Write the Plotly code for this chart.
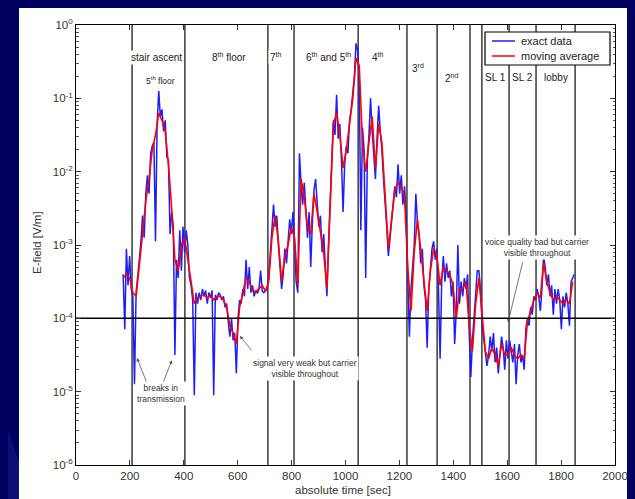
import plotly.graph_objects as go

# ---------------- data ----------------
# exact data: sampled every 6 s from t = 175 s; values stored as log10(E [V/m])
exact_time = list(range(175, 1850, 6))
exact_log10 = [
    -3.4, -4.15, -3.05, -3.55, -3.15, -3.6, -3.7, -4.9, -3.65, -3.45,
    -3.2, -2.95, -2.6, -2.9, -2.3, -2.05, -2.3, -1.75, -1.65, -1.6,
    -2.95, -1.35, -0.9, -1.25, -1.15, -1.45, -1.3, -1.8, -1.85, -2.85,
    -2.55, -2.75, -4.5, -3.2, -3.45, -2.8, -3.35, -2.75, -3.1, -2.8,
    -3.0, -3.45, -3.55, -3.75, -5.05, -3.65, -3.8, -3.65, -3.75, -3.6,
    -3.7, -3.62, -3.8, -3.65, -3.72, -3.62, -5.05, -3.68, -3.75, -3.65,
    -3.68, -3.75, -3.7, -3.85, -3.8, -4.05, -4.25, -4.0, -4.3, -4.2,
    -4.75, -4.0, -3.75, -3.8, -3.6, -3.7, -3.2, -3.6, -3.3, -3.65,
    -3.55, -3.7, -3.62, -3.66, -3.6, -3.35, -3.63, -3.65, -3.62, -3.6,
    -3.45, -3.1, -2.7, -2.45, -2.75, -2.6, -3.0, -3.35, -3.6, -3.4,
    -3.05, -3.25, -2.95, -2.65, -2.85, -2.55, -3.0, -3.5, -3.65, -1.75,
    -2.15, -2.45, -2.15, -2.55, -2.9, -2.55, -3.3, -2.7, -2.25, -2.1,
    -2.5, -2.75, -2.6, -3.1, -2.85, -3.3, -3.7, -3.0, -2.5, -1.85,
    -1.3, -1.5, -0.95, -1.55, -1.35, -1.85, -2.55, -1.9, -1.65, -1.75,
    -1.3, -1.15, -0.95, -0.7, -0.25, -0.35, -0.75, -2.8, -1.4, -1.7,
    -3.45, -1.85, -1.5, -1.0, -1.45, -1.75, -2.1, -1.55, -1.1, -1.45,
    -1.7, -2.1, -2.4, -2.75, -3.15, -2.9, -2.65, -2.4, -2.2, -2.35,
    -1.9, -2.3, -2.05, -2.45, -2.2, -2.6, -3.5, -4.25, -3.6, -3.3,
    -3.0, -2.3, -2.7, -2.85, -3.25, -3.05, -3.55, -3.75, -4.4, -3.6,
    -3.35, -3.05, -2.95, -3.2, -3.05, -3.6, -4.55, -3.5, -3.15, -3.5,
    -3.25, -3.45, -3.35, -3.7, -3.5, -4.35, -3.9, -3.0, -3.8, -3.5,
    -3.7, -3.45, -3.6, -3.4, -4.2, -4.8, -4.3, -3.95, -3.7, -3.35,
    -3.35, -3.6, -4.1, -4.3, -4.5, -4.65, -4.5, -4.25, -4.45, -4.2,
    -4.6, -4.4, -4.75, -4.45, -4.25, -4.4, -4.7, -4.3, -4.55, -4.3,
    -4.45, -4.6, -4.35, -4.9, -4.5, -4.35, -4.6, -4.5, -4.7, -4.15,
    -4.0, -4.1, -3.85, -3.95, -3.7, -3.75, -3.6, -3.7, -3.9, -3.6,
    -3.15, -3.3, -3.55, -3.4, -3.7, -3.55, -3.95, -3.6, -3.8, -3.6,
    -3.75, -4.15, -3.7, -3.85, -3.65, -3.8, -4.1, -3.5, -3.45, -3.4,
]

# moving average: sampled every 12 s from t = 175 s; values stored as log10(E [V/m])
avg_time = list(range(175, 1844, 12))
avg_log10 = [
    -3.45, -3.4, -3.45, -3.65, -3.7, -3.3, -2.85, -2.4, -2.1, -1.7,
    -1.5, -1.2, -1.3, -1.45, -1.9, -2.5, -3.2, -3.35, -3.0, -2.9,
    -3.2, -3.55, -3.8, -3.72, -3.7, -3.68, -3.72, -3.68, -3.75, -3.7,
    -3.7, -3.75, -3.85, -4.1, -4.2, -4.35, -3.85, -3.65, -3.45, -3.5,
    -3.62, -3.64, -3.6, -3.55, -3.63, -3.5, -2.9, -2.6, -2.95, -3.5,
    -3.15, -3.0, -2.75, -2.9, -3.55, -2.1, -2.35, -2.75, -2.85, -2.3,
    -2.55, -2.8, -3.1, -3.6, -2.55, -1.35, -1.2, -1.5, -1.95, -1.7,
    -1.35, -1.0, -0.45, -0.55, -1.6, -2.0, -1.6, -1.25, -1.95, -1.35,
    -1.6, -2.35, -3.05, -2.65, -2.25, -2.15, -2.2, -2.35, -3.3, -3.9,
    -3.1, -2.65, -3.05, -3.5, -3.9, -3.35, -3.05, -3.15, -3.55, -3.3,
    -3.35, -3.4, -3.55, -4.0, -3.6, -3.6, -3.5, -4.1, -4.45, -3.8,
    -3.45, -3.95, -4.45, -4.55, -4.4, -4.5, -4.65, -4.35, -4.5, -4.5,
    -4.4, -4.5, -4.55, -4.5, -4.55, -4.05, -3.9, -3.75, -3.66, -3.72,
    -3.25, -3.5, -3.65, -3.75, -3.7, -3.75, -3.8, -3.75, -3.8, -3.5,
]

series_names = ["exact data", "moving average"]

# section boundaries [s]
section_bounds = [208, 404, 712, 809, 1047, 1228, 1340, 1462, 1506, 1607, 1707, 1852]

# section labels: (text, time [s], log10 height, font size)
section_labels = [
    ("stair ascent", 300, -0.44, 10),
    ("5<sup>th</sup> floor", 312, -0.76, 8.5),
    ("8<sup>th</sup> floor", 568, -0.44, 10),
    ("7<sup>th</sup>", 742, -0.44, 10),
    ("6<sup>th</sup> and 5<sup>th</sup>", 936, -0.44, 10),
    ("4<sup>th</sup>", 1120, -0.44, 10),
    ("3<sup>rd</sup>", 1269, -0.59, 10),
    ("2<sup>nd</sup>", 1395, -0.72, 10),
    ("SL 1", 1555, -0.72, 10),
    ("SL 2", 1655, -0.72, 10),
    ("lobby", 1781, -0.72, 10),
]

threshold = 1e-4
x_ticks = [0, 200, 400, 600, 800, 1000, 1200, 1400, 1600, 1800, 2000]
y_exps = [-6, -5, -4, -3, -2, -1, 0]

exact_vals = [10 ** v for v in exact_log10]
avg_vals = [10 ** v for v in avg_log10]

# ---------------- figure ----------------
# The page body keeps its 8 px margin (coloured navy below), so the figure starts
# 8 px in; layout positions below are given in window pixels via px()/py().
WIN_W, WIN_H = 635, 499
OFF = 8
W, H = WIN_W - OFF, WIN_H - OFF
NAVY = "rgb(0,0,96)"
FONT = "Arial, 'Liberation Sans', Helvetica, sans-serif"
BLUE = "rgb(30,30,250)"
RED = "rgb(255,0,0)"


def px(x):
    return (x - OFF) / W


def py(y):
    return 1 - (y - OFF) / H


fig = go.Figure()
fig.add_trace(go.Scatter(x=exact_time, y=exact_vals, mode="lines", name=series_names[0],
                         showlegend=False, line=dict(color=BLUE, width=1.5)))
fig.add_trace(go.Scatter(x=avg_time, y=avg_vals, mode="lines", name=series_names[1],
                         showlegend=False, line=dict(color=RED, width=1.6)))
fig.add_trace(go.Scatter(x=[0, 2000], y=[threshold, threshold], mode="lines",
                         showlegend=False, hoverinfo="skip",
                         line=dict(color="black", width=1.5)))

shapes = [
    dict(type="path", xref="paper", yref="paper",
         path="M %f %f L %f %f L %f 0 L 0 0 Z" % (0, py(430), px(19), py(462), px(19)),
         fillcolor="rgb(14,14,120)", line=dict(width=0), layer="below"),
    dict(type="rect", xref="paper", yref="paper", x0=px(19), x1=1, y0=0, y1=1,
         fillcolor="white", line=dict(width=0), layer="below"),
]
for b in section_bounds:
    shapes.append(dict(type="line", xref="x", yref="y domain", x0=b, x1=b, y0=0, y1=1,
                       line=dict(color="#3a3a3a", width=1.5), layer="below"))

# compact legend box as in the original
shapes += [
    dict(type="rect", xref="paper", yref="paper", x0=px(485), x1=px(610), y0=py(65), y1=py(32),
         fillcolor="white", line=dict(color="black", width=1.2), layer="above"),
    dict(type="line", xref="paper", yref="paper", x0=px(492), x1=px(515), y0=py(41), y1=py(41),
         line=dict(color=BLUE, width=1.5), layer="above"),
    dict(type="line", xref="paper", yref="paper", x0=px(492), x1=px(515), y0=py(56), y1=py(56),
         line=dict(color=RED, width=1.5), layer="above"),
]

annotations = []
for text, t, ly, fs in section_labels:
    annotations.append(dict(x=t, y=ly, xref="x", yref="y", text=text, showarrow=False,
                            xanchor="center", yanchor="middle",
                            font=dict(size=fs, color="#222"), bgcolor="white", borderpad=1))

annotations += [
    dict(x=px(519), y=py(41), xref="paper", yref="paper", text=series_names[0],
         xanchor="left", yanchor="middle", showarrow=False,
         font=dict(size=11, color="#222")),
    dict(x=px(519), y=py(56), xref="paper", yref="paper", text=series_names[1],
         xanchor="left", yanchor="middle", showarrow=False,
         font=dict(size=11, color="#222")),
]

arrow_style = dict(showarrow=True, arrowhead=2, arrowsize=0.9, arrowwidth=0.8,
                   arrowcolor="#555")
note_style = dict(showarrow=False, xanchor="center", yanchor="middle",
                  font=dict(size=8.5, color="#333"), bgcolor="white")
annotations += [
    dict(x=315, y=-5.02, xref="x", yref="y", text="breaks in<br>transmission", **note_style),
    dict(x=226, y=-4.54, xref="x", yref="y", text="", ax=10, ay=25, **arrow_style),
    dict(x=356, y=-4.57, xref="x", yref="y", text="", ax=-9, ay=23, **arrow_style),
    dict(x=850, y=-4.68, xref="x", yref="y",
         text="signal very weak but carrier<br>visible throughout", **note_style),
    dict(x=608, y=-4.24, xref="x", yref="y", text="", ax=13, ay=16, **arrow_style),
    dict(x=1711, y=-3.04, xref="x", yref="y",
         text="voice quality bad but carrier<br>visible throughout", **note_style),
    dict(x=1603, y=-4.06, xref="x", yref="y", text="", ax=15, ay=-62, **arrow_style),
    dict(x=px(343), y=py(490), xref="paper", yref="paper", text="absolute time [sec]",
         xanchor="center", yanchor="middle", showarrow=False,
         font=dict(size=11.5, color="#333")),
    dict(x=px(37), y=py(243), xref="paper", yref="paper", text="E-field [V/m]",
         xanchor="center", yanchor="middle", textangle=-90, showarrow=False,
         font=dict(size=11.5, color="#333")),
]

minor_vals = [k * 10 ** e for e in range(-6, 0) for k in range(2, 10)]

fig.update_layout(
    width=W, height=H,
    margin=dict(l=0, r=0, t=0, b=0, autoexpand=False),
    paper_bgcolor=NAVY,
    plot_bgcolor="white",
    font=dict(family=FONT, color="#333", size=11),
    shapes=shapes,
    annotations=annotations,
    showlegend=False,
    xaxis=dict(domain=[px(76), px(615)], range=[0, 2000], tickvals=x_ticks,
               ticks="inside", ticklen=5, tickcolor="#333", mirror="allticks",
               showline=True, linecolor="black", linewidth=1, showgrid=False,
               zeroline=False, automargin=False, tickfont=dict(size=11.5, color="#333")),
    yaxis=dict(domain=[py(465), py(25)], type="log", range=[-6, 0],
               tickvals=[10 ** e for e in y_exps],
               ticktext=["10<sup>%d</sup>" % e for e in y_exps],
               ticks="inside", ticklen=5, tickcolor="#333", mirror="allticks",
               showline=True, linecolor="black", linewidth=1, showgrid=False,
               zeroline=False, automargin=False, tickfont=dict(size=11.5, color="#333"),
               minor=dict(tickvals=minor_vals, ticks="inside", ticklen=2.5,
                          tickcolor="#555", showgrid=False)),
)

fig.write_html(
    "out.html",
    config={"displayModeBar": False},
    post_script="document.body.style.background='%s';"
                "document.documentElement.style.background='%s';"
                "document.documentElement.style.overflow='hidden';"
                "document.body.style.overflow='hidden';" % (NAVY, NAVY),
)
